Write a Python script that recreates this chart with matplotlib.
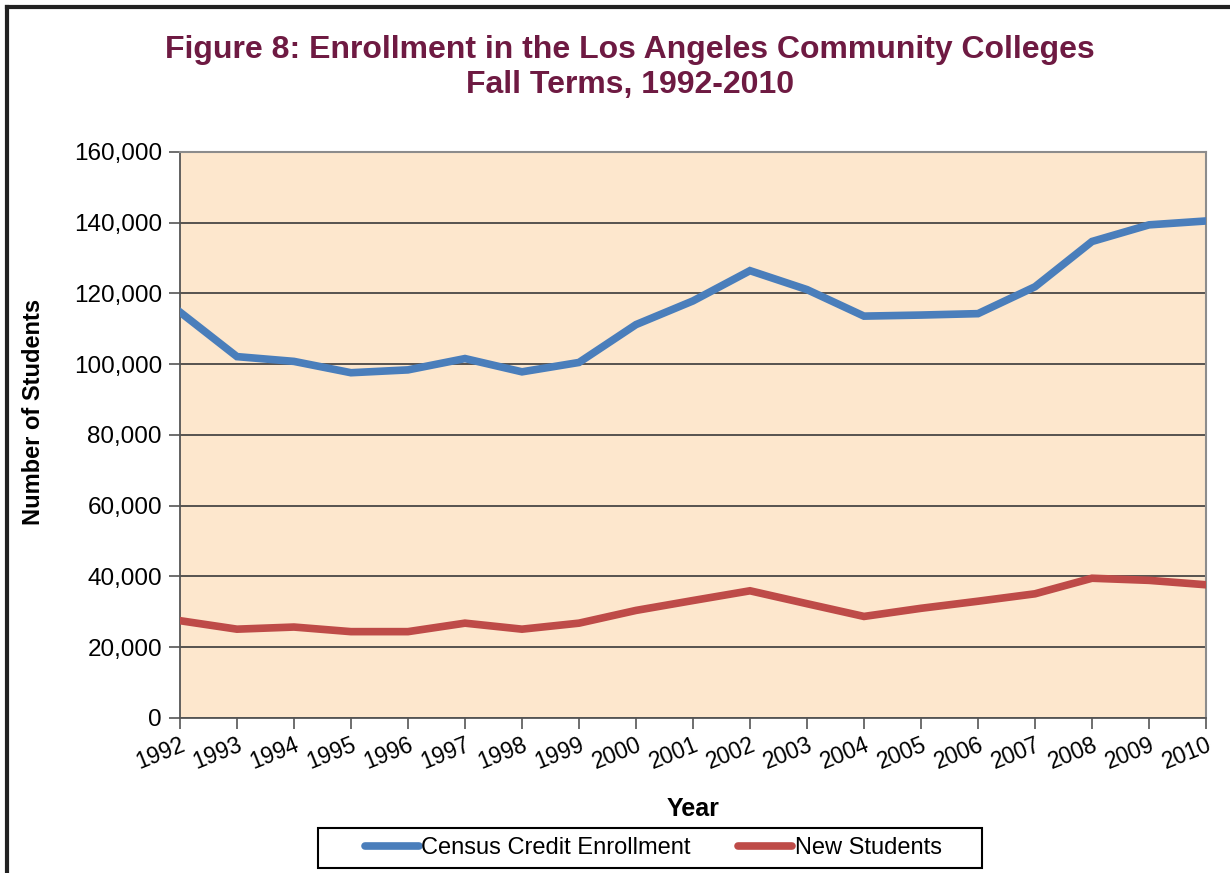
import matplotlib.pyplot as plt
from matplotlib.lines import Line2D
from matplotlib.patches import Rectangle
from matplotlib.ticker import FuncFormatter

plt.rcParams['font.family'] = ['Liberation Sans', 'DejaVu Sans']

# Fall terms
years = [str(y) for y in range(1992, 2011)]

# Census credit enrollment
census = [114750, 102150, 100800, 97600, 98400, 101600, 97850, 100500, 111200, 117900,
          126450, 121100, 113600, 113900, 114300, 121900, 134700, 139400, 140500]

# New students
new_students = [27500, 25100, 25700, 24400, 24400, 26800, 25100, 26800, 30400, 33200,
                35950, 32300, 28700, 31000, 33000, 35100, 39500, 38900, 37650]

fig = plt.figure(figsize=(12.3, 8.73), dpi=100)
ax = fig.add_axes([0.1463, 0.1776, 0.8342, 0.6483])
ax.set_facecolor('#FDE7CD')

x = list(range(len(years)))
ax.plot(x, census, color='#4A7EBB', linewidth=5.5, solid_joinstyle='miter',
        label='Census Credit Enrollment', zorder=3)
ax.plot(x, new_students, color='#BE4B48', linewidth=5.5, solid_joinstyle='miter',
        label='New Students', zorder=3)

ax.set_xlim(0, len(years) - 1)
ax.set_ylim(0, 160000)
ax.set_yticks(range(0, 160001, 20000))
ax.yaxis.set_major_formatter(FuncFormatter(lambda v, p: f'{int(v):,}'))
ax.set_xticks(x)
ax.set_xticklabels(years, rotation=22, ha='right', rotation_mode='anchor')
ax.grid(axis='y', color='#3a3a3a', linewidth=1.2, zorder=1)
ax.set_axisbelow(True)

ax.tick_params(axis='y', labelsize=17.5, length=8, width=1.2, color='#555555', pad=5)
ax.tick_params(axis='x', labelsize=16.5, length=8, width=1.2, color='#555555', pad=3)
for s in ['left', 'bottom']:
    ax.spines[s].set_color('#555555')
    ax.spines[s].set_linewidth(1.3)
for s in ['top', 'right']:
    ax.spines[s].set_color('#8c8c8c')
    ax.spines[s].set_linewidth(1.5)

ax.set_ylabel('Number of Students', fontsize=17, fontweight='bold')
ax.yaxis.set_label_coords(-0.132, 0.54)
ax.set_xlabel('Year', fontsize=18, fontweight='bold', labelpad=17)

fig.text(0.512, 0.96, 'Figure 8: Enrollment in the Los Angeles Community Colleges\nFall Terms, 1992-2010',
         ha='center', va='top', fontsize=23, fontweight='bold', color='#6E1A42', linespacing=1.2)

handles = [Line2D([0], [0], color='#4A7EBB', linewidth=5.5, solid_capstyle='round'),
           Line2D([0], [0], color='#BE4B48', linewidth=5.5, solid_capstyle='round')]
leg = fig.legend(handles, ['Census Credit Enrollment', 'New Students'], loc='center',
                 bbox_to_anchor=(0.531, 0.0286), ncol=2, fontsize=17, frameon=False,
                 handlelength=2.3, handletextpad=0.1, columnspacing=2.0,
                 borderpad=0.3, borderaxespad=0)
fig.add_artist(Rectangle((318 / 1230, 5 / 873), 664 / 1230, 40 / 873, fill=False,
                         edgecolor='black', linewidth=1.5, transform=fig.transFigure))

# outer border of the chart object
fig.add_artist(Line2D([0.006, 1.0], [0.992, 0.992], color='#222222', linewidth=3,
                      transform=fig.transFigure))
fig.add_artist(Line2D([0.006, 0.006], [0.0, 0.992], color='#222222', linewidth=3,
                      transform=fig.transFigure))

fig.savefig('out.png', dpi=100)
